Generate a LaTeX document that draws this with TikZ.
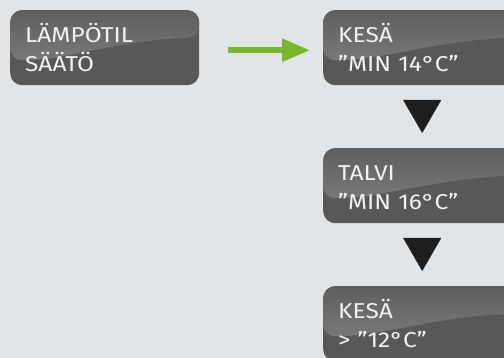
\documentclass[tikz,border=0pt]{standalone}
\usepackage{fontspec}
\setmainfont{Fira Sans}[FakeStretch=1.14]
\usepackage{tikz}
\usetikzlibrary{positioning,arrows.meta,backgrounds}

\definecolor{bgcol}{HTML}{E2E5E7}
\definecolor{boxlow}{HTML}{585856}
\definecolor{boxtop}{HTML}{5E5E5E}
\definecolor{boxmid}{HTML}{858585}
\definecolor{txtcol}{HTML}{F2F2F2}
\definecolor{arrowgreen}{HTML}{76B82A}
\definecolor{tricol}{HTML}{1E1E1E}

\tikzset{
    display/.style={rectangle, rounded corners=12pt, fill=boxlow, anchor=north west,
        minimum height=75pt, inner xsep=15pt, inner ysep=0pt, align=left, text=txtcol,
        text height=18pt, text depth=29pt,
        font=\fontsize{21.5}{29}\selectfont,
        path picture={
            \shade[top color=boxtop, bottom color=boxmid]
                (path picture bounding box.north west)
                -- ([yshift=-50pt]path picture bounding box.north west)
                .. controls +(60pt,0pt) and +(-90pt,-4pt) ..
                ([yshift=-27pt]path picture bounding box.north east)
                -- (path picture bounding box.north east) -- cycle;
        }},
    widebox/.style={text width=168pt},
    narrowbox/.style={text width=159pt},
    next/.style={draw=arrowgreen, line width=6pt,
        -{Triangle[length=28pt,width=22pt]}, shorten <=29pt, shorten >=13pt},
    down/.style={draw=tricol, fill=tricol, line width=0.4pt,
        -{Triangle[length=33pt,width=38pt]}, shorten <=15pt, shorten >=15pt}
}

\begin{document}
\begin{tikzpicture}[x=1pt,y=-1pt]
        \fill[bgcol] (0,0) rectangle (504,358);
        \useasboundingbox (0,0) rectangle (504,358);

        %% Displays
        \node[display,narrowbox] (menu) at (10,10) {LÄMPÖTIL\\SÄÄTÖ};
        \node[display,widebox] (summer) at (323,10) {KESÄ\\”MIN 14°C”};
        \node[display,widebox] (winter) at (323,148) {TALVI\\”MIN 16°C”};
        \node[display,widebox] (limit) at (323,286) {KESÄ\\> ”12°C”};

        %% Arrows
        \draw[next] ([yshift=-2.5pt]menu.east) -- ([yshift=-2.5pt]summer.west);
        \draw[down] (summer) -- (winter);
        \draw[down] (winter) -- (limit);
\end{tikzpicture}
\end{document}
